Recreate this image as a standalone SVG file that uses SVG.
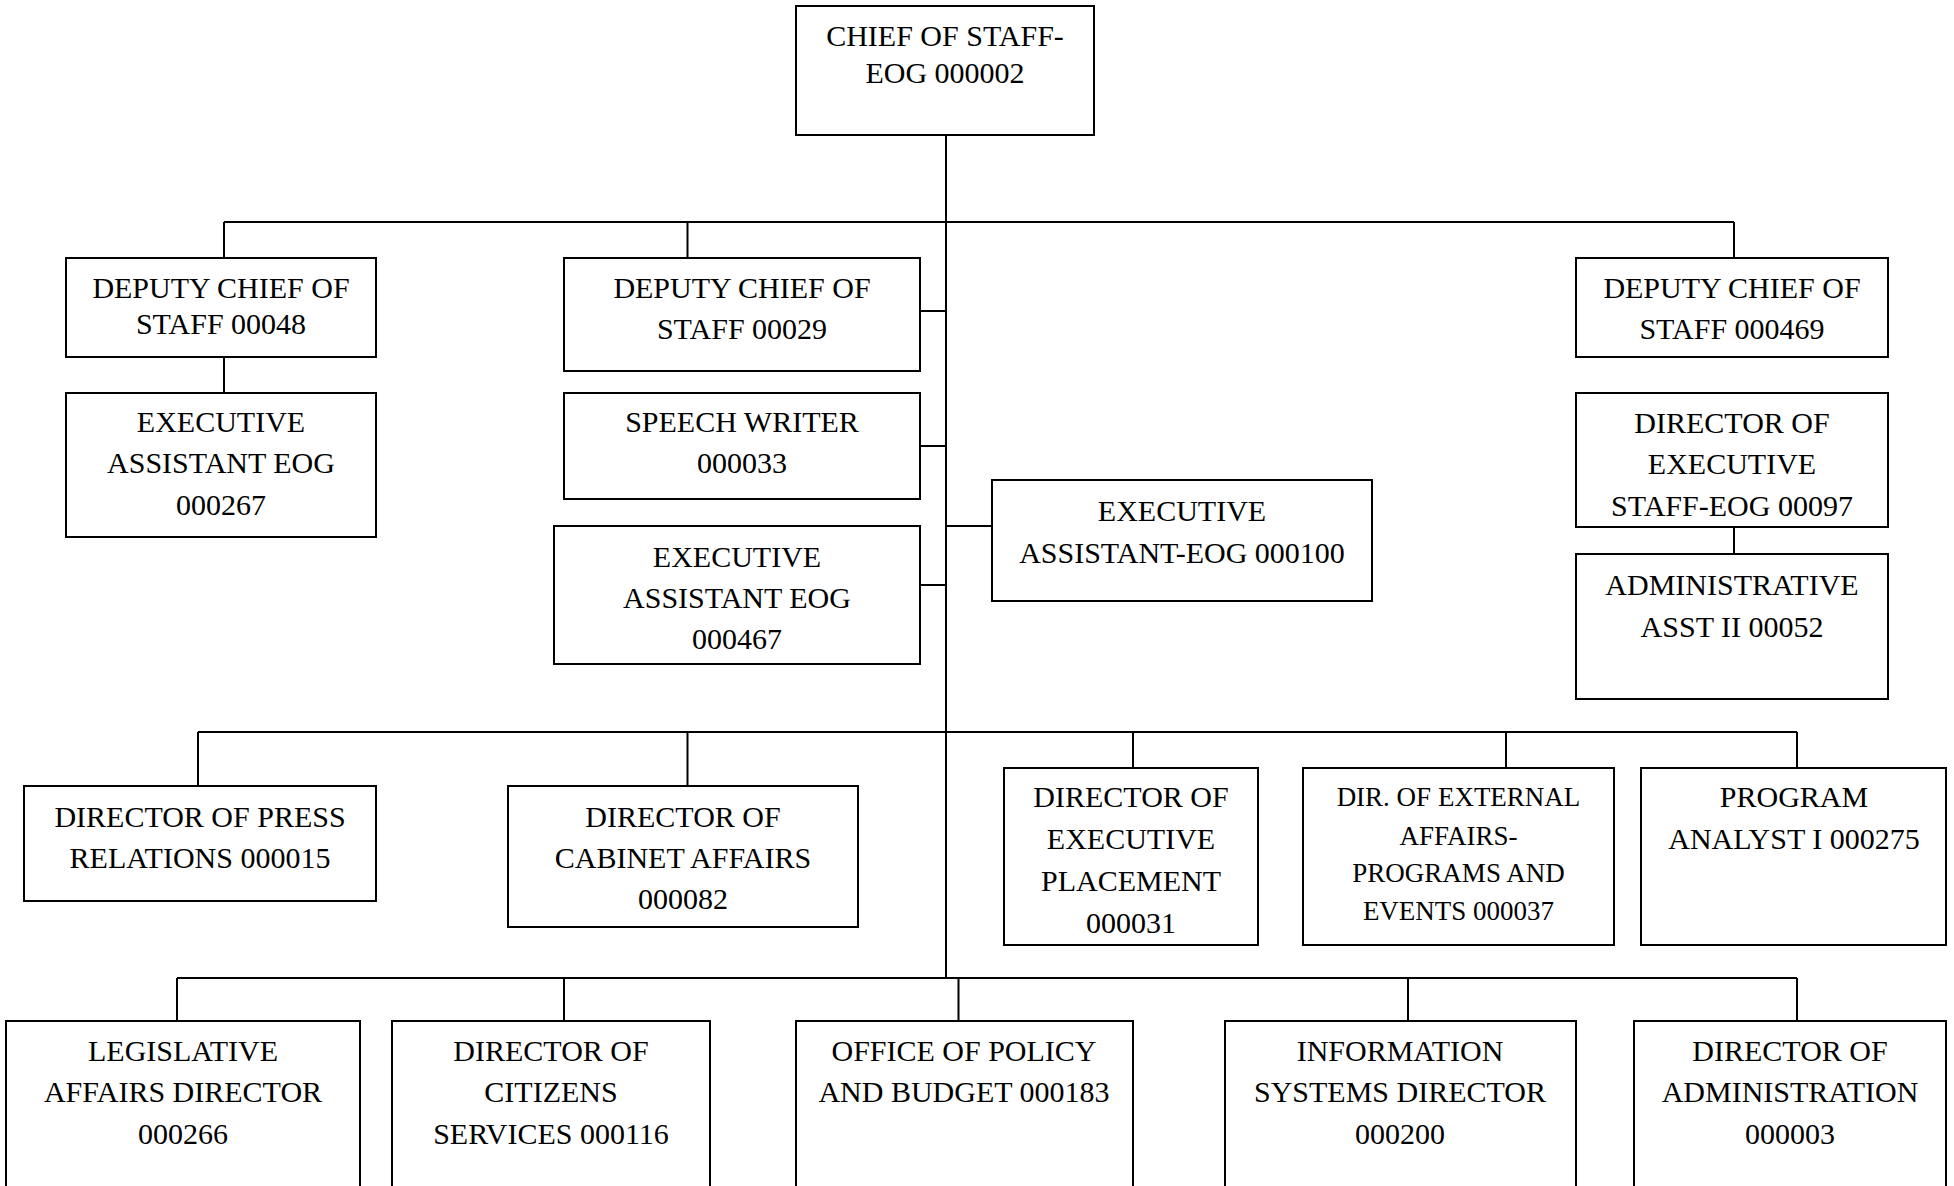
<svg xmlns="http://www.w3.org/2000/svg" width="1954" height="1186" viewBox="0 0 1954 1186">
  <style>
    .box { fill: #ffffff; stroke: #000000; stroke-width: 2; }
    .link { fill: none; stroke: #000000; stroke-width: 2; }
    text { font-family: "Liberation Serif", "Times New Roman", serif; font-size: 30px; fill: #000000; text-anchor: middle; }
    .small { font-size: 27px; }
  </style>
  <rect x="0" y="0" width="1954" height="1186" fill="#ffffff"/>

  <!-- connectors -->
  <g id="connectors">
    <!-- main trunk -->
    <path class="link" d="M946,135 V978"/>
    <!-- deputy bus -->
    <path class="link" d="M224,222 H1734 M224,222 V258 M687.5,222 V258 M1734,222 V258"/>
    <path class="link" d="M224,357 V393"/>
    <path class="link" d="M1734,527 V554"/>
    <!-- side attachments to trunk -->
    <path class="link" d="M920,311 H946 M920,446 H946 M920,585 H946 M946,526 H992"/>
    <!-- director bus -->
    <path class="link" d="M198,732 H1797 M198,732 V786 M687.5,732 V786 M1133,732 V768 M1506,732 V768 M1797,732 V768"/>
    <!-- lower bus -->
    <path class="link" d="M177,978 H1797 M177,978 V1021 M564,978 V1021 M958.5,978 V1021 M1408,978 V1021 M1797,978 V1021"/>
  </g>

  <g id="chief-of-staff">
    <rect class="box" x="796" y="6" width="298" height="129"/>
    <text x="945" y="46">CHIEF OF STAFF-</text>
    <text x="945" y="83">EOG 000002</text>
  </g>

  <g id="deputy-00048">
    <rect class="box" x="66" y="258" width="310" height="99"/>
    <text x="221" y="298">DEPUTY CHIEF OF</text>
    <text x="221" y="334">STAFF 00048</text>
  </g>

  <g id="exec-assistant-000267">
    <rect class="box" x="66" y="393" width="310" height="144"/>
    <text x="221" y="432">EXECUTIVE</text>
    <text x="221" y="473">ASSISTANT EOG</text>
    <text x="221" y="515">000267</text>
  </g>

  <g id="deputy-00029">
    <rect class="box" x="564" y="258" width="356" height="113"/>
    <text x="742" y="298">DEPUTY CHIEF OF</text>
    <text x="742" y="339">STAFF 00029</text>
  </g>

  <g id="speech-writer">
    <rect class="box" x="564" y="393" width="356" height="106"/>
    <text x="742" y="432">SPEECH WRITER</text>
    <text x="742" y="473">000033</text>
  </g>

  <g id="exec-assistant-000467">
    <rect class="box" x="554" y="526" width="366" height="138"/>
    <text x="737" y="567">EXECUTIVE</text>
    <text x="737" y="608">ASSISTANT EOG</text>
    <text x="737" y="649">000467</text>
  </g>

  <g id="exec-assistant-000100">
    <rect class="box" x="992" y="480" width="380" height="121"/>
    <text x="1182" y="521">EXECUTIVE</text>
    <text x="1182" y="563">ASSISTANT-EOG 000100</text>
  </g>

  <g id="deputy-000469">
    <rect class="box" x="1576" y="258" width="312" height="99"/>
    <text x="1732" y="298">DEPUTY CHIEF OF</text>
    <text x="1732" y="339">STAFF 000469</text>
  </g>

  <g id="director-executive-staff">
    <rect class="box" x="1576" y="393" width="312" height="134"/>
    <text x="1732" y="433">DIRECTOR OF</text>
    <text x="1732" y="474">EXECUTIVE</text>
    <text x="1732" y="516">STAFF-EOG 00097</text>
  </g>

  <g id="admin-asst-ii">
    <rect class="box" x="1576" y="554" width="312" height="145"/>
    <text x="1732" y="595">ADMINISTRATIVE</text>
    <text x="1732" y="637">ASST II 00052</text>
  </g>

  <g id="press-relations">
    <rect class="box" x="24" y="786" width="352" height="115"/>
    <text x="200" y="827">DIRECTOR OF PRESS</text>
    <text x="200" y="868">RELATIONS 000015</text>
  </g>

  <g id="cabinet-affairs">
    <rect class="box" x="508" y="786" width="350" height="141"/>
    <text x="683" y="827">DIRECTOR OF</text>
    <text x="683" y="868">CABINET AFFAIRS</text>
    <text x="683" y="909">000082</text>
  </g>

  <g id="executive-placement">
    <rect class="box" x="1004" y="768" width="254" height="177"/>
    <text x="1131" y="807">DIRECTOR OF</text>
    <text x="1131" y="849">EXECUTIVE</text>
    <text x="1131" y="891">PLACEMENT</text>
    <text x="1131" y="933">000031</text>
  </g>

  <g id="external-affairs">
    <rect class="box" x="1303" y="768" width="311" height="177"/>
    <text class="small" x="1458.5" y="806">DIR. OF EXTERNAL</text>
    <text class="small" x="1458.5" y="845">AFFAIRS-</text>
    <text class="small" x="1458.5" y="882">PROGRAMS AND</text>
    <text class="small" x="1458.5" y="920">EVENTS 000037</text>
  </g>

  <g id="program-analyst">
    <rect class="box" x="1641" y="768" width="305" height="177"/>
    <text x="1794" y="807">PROGRAM</text>
    <text x="1794" y="849">ANALYST I 000275</text>
  </g>

  <g id="legislative-affairs">
    <rect class="box" x="6" y="1021" width="354" height="200"/>
    <text x="183" y="1061">LEGISLATIVE</text>
    <text x="183" y="1102">AFFAIRS DIRECTOR</text>
    <text x="183" y="1144">000266</text>
  </g>

  <g id="citizens-services">
    <rect class="box" x="392" y="1021" width="318" height="200"/>
    <text x="551" y="1061">DIRECTOR OF</text>
    <text x="551" y="1102">CITIZENS</text>
    <text x="551" y="1144">SERVICES 000116</text>
  </g>

  <g id="policy-budget">
    <rect class="box" x="796" y="1021" width="337" height="200"/>
    <text x="964" y="1061">OFFICE OF POLICY</text>
    <text x="964" y="1102">AND BUDGET 000183</text>
  </g>

  <g id="information-systems">
    <rect class="box" x="1225" y="1021" width="351" height="200"/>
    <text x="1400" y="1061">INFORMATION</text>
    <text x="1400" y="1102">SYSTEMS DIRECTOR</text>
    <text x="1400" y="1144">000200</text>
  </g>

  <g id="administration">
    <rect class="box" x="1634" y="1021" width="312" height="200"/>
    <text x="1790" y="1061">DIRECTOR OF</text>
    <text x="1790" y="1102">ADMINISTRATION</text>
    <text x="1790" y="1144">000003</text>
  </g>
</svg>
